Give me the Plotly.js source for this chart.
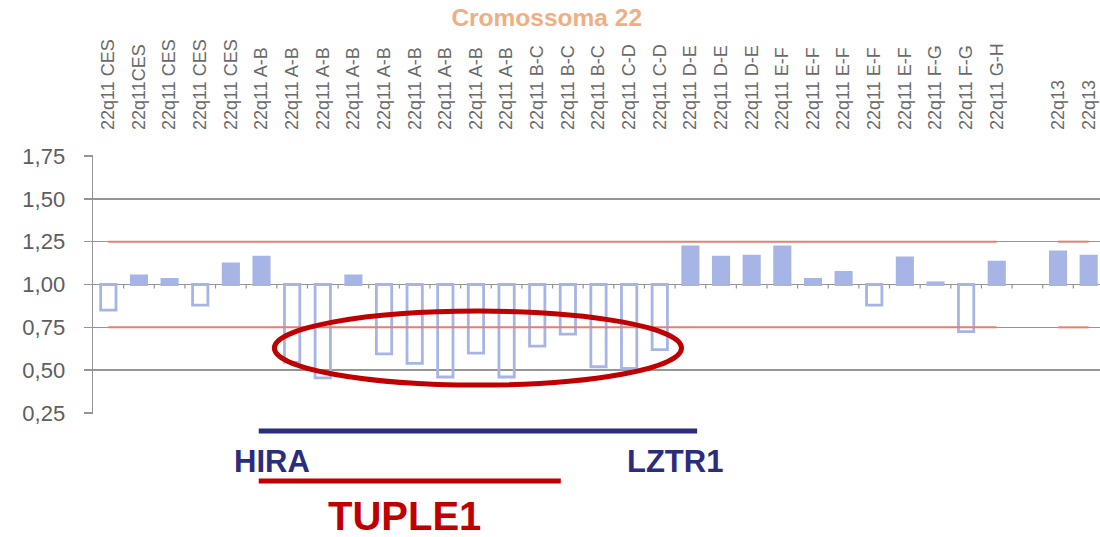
<!DOCTYPE html>
<html>
<head>
<meta charset="utf-8">
<script src="https://cdn.plot.ly/plotly-3.0.1.min.js"></script>
<style>html,body{margin:0;padding:0;background:#fff;}#chart{width:1100px;height:537px;}</style>
</head>
<body>
<div id="chart"></div>
<script>
// ---- data ----
const categories = [
  "22q11 CES","22q11CES","22q11 CES","22q11 CES","22q11 CES",
  "22q11 A-B","22q11 A-B","22q11 A-B","22q11 A-B","22q11 A-B","22q11 A-B","22q11 A-B","22q11 A-B","22q11 A-B",
  "22q11 B-C","22q11 B-C","22q11 B-C",
  "22q11 C-D","22q11 C-D",
  "22q11 D-E","22q11 D-E","22q11 D-E",
  "22q11 E-F","22q11 E-F","22q11 E-F","22q11 E-F","22q11 E-F",
  "22q11 F-G","22q11 F-G",
  "22q11 G-H",
  "",
  "22q13","22q13"
];
const ratios = [
  0.85, 1.05, 1.03, 0.88, 1.12,
  1.16, 0.545, 0.455, 1.05, 0.595, 0.54, 0.46, 0.60, 0.46,
  0.64, 0.71, 0.52,
  0.51, 0.62,
  1.22, 1.16, 1.165,
  1.22, 1.03, 1.07, 0.88, 1.155,
  1.01, 0.725,
  1.13,
  null,
  1.19, 1.165
];
const baseline = 1.0;
const upperLimit = 1.25;
const lowerLimit = 0.75;
const yTicks = [0.25, 0.50, 0.75, 1.00, 1.25, 1.50, 1.75];

// ---- derived ----
const idx = categories.map((c, i) => i);
const labelIdx = idx.filter(i => categories[i] !== "");
const labelText = labelIdx.map(i => categories[i]);
const boundaries = idx.map(i => i + 0.5);
const deltas = ratios.map(v => v == null ? null : v - baseline);
const barFill = "#A7B5E6";
const fills = ratios.map(v => (v != null && v >= baseline) ? barFill : "rgba(0,0,0,0)");
const upperLine = categories.map(c => c === "" ? null : upperLimit);
const lowerLine = categories.map(c => c === "" ? null : lowerLimit);
const xRange = [-0.5, 32.37];

const refColor = "#E4806F";
const traces = [
  {type:"scatter", mode:"lines", x: idx, y: upperLine, line:{color:refColor, width:2}, connectgaps:false, hoverinfo:"skip"},
  {type:"scatter", mode:"lines", x: idx, y: lowerLine, line:{color:refColor, width:2}, connectgaps:false, hoverinfo:"skip"},
  {type:"bar", x: idx, y: deltas, base: baseline, width: 0.5,
   marker:{color: fills, line:{color: barFill, width: 2.8}}, hoverinfo:"skip"}
];

const font = "Liberation Sans, Arial, sans-serif";
const navy = "#2B2C7C";
const darkRed = "#C00000";
const gridGray = "#959595";

// small tick marks hanging below the baseline at category boundaries
const baselineTicks = boundaries.map(b => ({
  type: "line", xref: "x", yref: "y", ysizemode: "pixel", yanchor: baseline,
  x0: b, x1: b, y0: 0, y1: -4, line: {color: gridGray, width: 1.2}, layer: "below"
}));

const layout = {
  width: 1100, height: 537,
  margin: {l: 93, r: 0, t: 155, b: 123, pad: 0},
  paper_bgcolor: "#ffffff", plot_bgcolor: "#ffffff",
  separators: ",.",
  showlegend: false,
  bargap: 0,
  title: {text: "Cromossoma 22", xref: "container", x: 0.497, yref: "container", y: 1 - 17/537,
          xanchor: "center", yanchor: "middle",
          font: {family: font, size: 24.5, color: "#F0AE82", weight: "bold"}},
  xaxis: {side: "top", range: xRange, tickmode: "array", tickvals: labelIdx, ticktext: labelText,
          tickangle: -90, showgrid: false, zeroline: false, showline: false, ticks: "",
          ticklabelstandoff: 24, tickfont: {family: font, size: 18, color: "#6a6a6a"}},
  yaxis: {range: [0.2442, 1.7558], tickmode: "array", tickvals: yTicks, tickformat: ".2f",
          showgrid: true, gridcolor: gridGray, gridwidth: 1.6, showline: true, linecolor: gridGray,
          linewidth: 1.4, ticks: "outside", ticklen: 8, tickcolor: gridGray, tickwidth: 1.4,
          zeroline: false,
          ticklabelstandoff: 14, tickfont: {family: font, size: 22, color: "#5e5e5e"}},
  shapes: baselineTicks.concat([
    {type: "circle", xref: "x", yref: "y", x0: 5.42, x1: 18.71, y0: 0.413, y1: 0.845,
     line: {color: darkRed, width: 5}},
    {type: "line", xref: "x", yref: "paper", x0: 4.91, x1: 19.22, y0: -0.066, y1: -0.066,
     line: {color: navy, width: 5}},
    {type: "line", xref: "x", yref: "paper", x0: 4.91, x1: 14.77, y0: -0.259, y1: -0.259,
     line: {color: darkRed, width: 5}}
  ]),
  annotations: [
    {text: "HIRA", xref: "x", yref: "paper", x: 5.34, y: -0.185, showarrow: false,
     xanchor: "center", yanchor: "middle", font: {family: font, size: 31, color: navy, weight: "bold"}},
    {text: "LZTR1", xref: "x", yref: "paper", x: 18.5, y: -0.185, showarrow: false,
     xanchor: "center", yanchor: "middle", font: {family: font, size: 31, color: navy, weight: "bold"}},
    {text: "TUPLE1", xref: "x", yref: "paper", x: 9.68, y: -0.393, showarrow: false,
     xanchor: "center", yanchor: "middle", font: {family: font, size: 40, color: darkRed, weight: "bold"}}
  ]
};
Plotly.newPlot("chart", traces, layout, {staticPlot: true, displayModeBar: false});
</script>
</body>
</html>
